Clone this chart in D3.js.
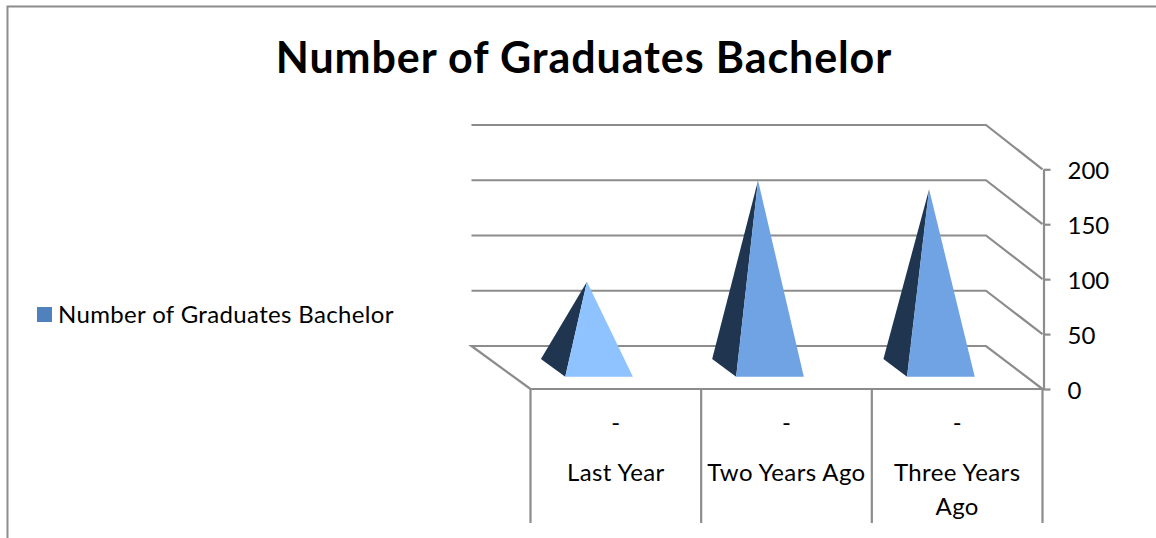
<!DOCTYPE html>
<html><head><meta charset="utf-8">
<script src="https://cdnjs.cloudflare.com/ajax/libs/d3/7.8.5/d3.min.js"></script>
<style>html,body{margin:0;padding:0;background:#fff;overflow:hidden}svg{display:block}text{font-family:Lato,sans-serif;fill:#000}</style>
</head><body><div id="c"></div>
<script>
const title = "Number of Graduates Bachelor";
const seriesName = "Number of Graduates Bachelor";
const categories = ["Last Year", "Two Years Ago", "Three Years Ago"];
const subLabels = ["-", "-", "-"];
const values = [78, 170, 162];
const yTicks = [0, 50, 100, 150, 200];

const W = 1156, H = 538, GRID = "#8c8c8c", LW = 2.2;
const svg = d3.select("#c").append("svg").attr("width", W).attr("height", H);

// front and back planes of the 3-D box
const xFront = d3.scaleLinear().domain([0, 3]).range([530.5, 1042.5]);
const xBack = d3.scaleLinear().domain([0, 3]).range([471.5, 986]);
const yFront = d3.scaleLinear().domain([0, 200]).range([389, 169.3]);
const yBack = d3.scaleLinear().domain([0, 200]).range([346, 125]);
const proj = (t, v, d) => [
  xFront(t) + (xBack(t) - xFront(t)) * d,
  yFront(v) + (yBack(v) - yFront(v)) * d
];
const line = d3.line();

// chart frame (top and left edges visible)
svg.append("path").attr("d", line([[7.5, H], [7.5, 6.5], [W, 6.5]]))
  .attr("fill", "none").attr("stroke", GRID).attr("stroke-width", 2);

// back-wall gridlines and side-wall diagonals
yTicks.forEach(v => {
  const pts = v === 0
    ? [proj(0, v, 0), proj(0, v, 1), proj(3, v, 1), proj(3, v, 0)]
    : [proj(0, v, 1), proj(3, v, 1), proj(3, v, 0)];
  svg.append("path").attr("d", line(pts)).attr("fill", "none")
    .attr("stroke", GRID).attr("stroke-width", LW);
});

// value axis
const yAxis = d3.axisRight(yFront).tickValues(yTicks).tickSize(7).tickPadding(17).tickSizeOuter(0);
const yg = svg.append("g").attr("transform", "translate(1043.5,0)").call(yAxis);
yg.selectAll("path,line").attr("stroke", GRID).attr("stroke-width", LW);
yg.selectAll("text").attr("font-size", 24).attr("font-family", "Lato").attr("fill", "#000").attr("dy", "0.38em");

// category axis: front edge and multi-level dividers
svg.append("line").attr("x1", xFront(0)).attr("x2", xFront(3) + 1)
  .attr("y1", yFront(0)).attr("y2", yFront(0)).attr("stroke", GRID).attr("stroke-width", LW);
d3.range(0, categories.length + 1).forEach(i => {
  svg.append("line").attr("x1", xFront(i)).attr("x2", xFront(i))
    .attr("y1", yFront(0)).attr("y2", 523).attr("stroke", GRID).attr("stroke-width", LW);
});

// wrapped category labels
categories.forEach((c, i) => {
  const cx = xFront(i + 0.5);
  svg.append("text").attr("x", cx).attr("y", 431).attr("text-anchor", "middle")
    .attr("font-size", 24).text(subLabels[i]);
  const lines = c === "Three Years Ago" ? ["Three Years", "Ago"] : [c];
  lines.forEach((l, k) => {
    svg.append("text").attr("x", cx).attr("y", 481 + k * 33.5).attr("text-anchor", "middle")
      .attr("font-size", 24).attr("letter-spacing", 0.4).text(l);
  });
});

// pyramids
const faceColor = d3.scaleOrdinal().domain(categories).range(["#8fc3ff", "#6fa3e3", "#6fa3e3"]);
const HALF = 0.198, D0 = 0.286, D1 = 0.70, DMID = (D0 + D1) / 2;
values.forEach((v, i) => {
  const t = i + 0.5;
  const apex = proj(t, v, DMID);
  const fl = proj(t - HALF, 0, D0), fr = proj(t + HALF, 0, D0), bl = proj(t - HALF, 0, D1);
  svg.append("path").attr("d", line([bl, fl, apex]) + "Z").attr("fill", "#1f3550");
  svg.append("path").attr("d", line([fl, fr, apex]) + "Z").attr("fill", faceColor(categories[i]));
});

// title
svg.append("text").attr("x", 584).attr("y", 73).attr("text-anchor", "middle")
  .attr("font-size", 43).attr("font-weight", 700).attr("letter-spacing", 0.9).text(title);

// legend
svg.append("rect").attr("x", 37).attr("y", 307).attr("width", 15).attr("height", 15).attr("fill", "#4f81bd");
svg.append("text").attr("x", 58).attr("y", 323).attr("font-size", 24).attr("letter-spacing", 0.35).text(seriesName);
</script></body></html>
